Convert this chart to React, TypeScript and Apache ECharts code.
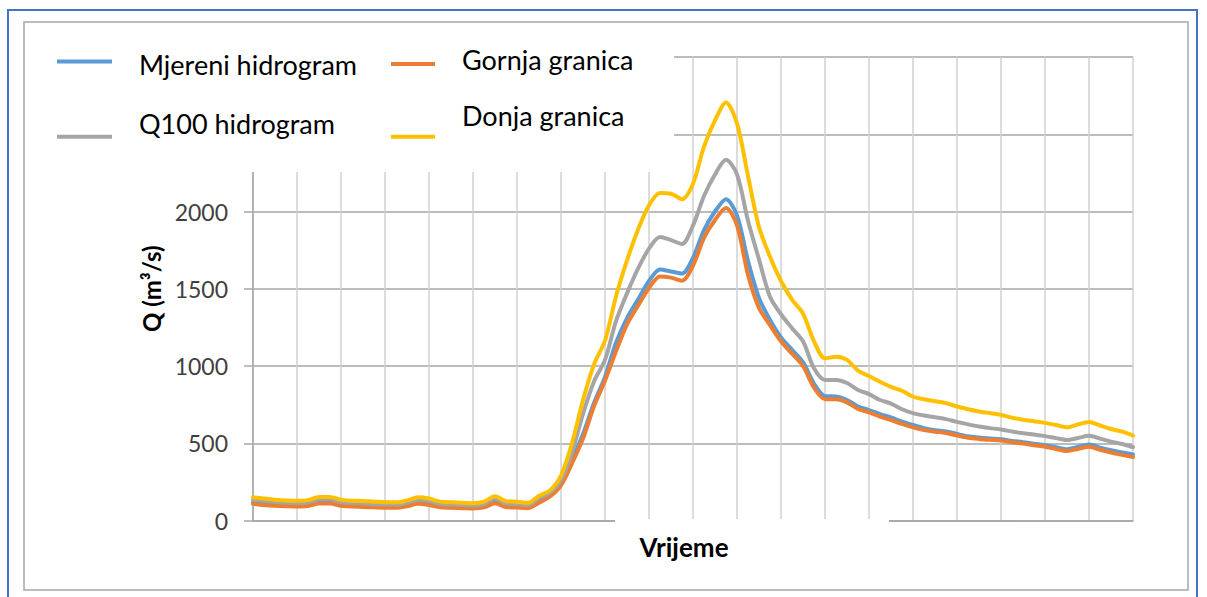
import React, { useEffect, useRef } from "react";
import * as echarts from "echarts";

const vrijeme = Array.from({ length: 81 }, (_, i) => String(i + 1));

const mjereni = [
  118, 110, 104, 100, 98, 102, 120, 120, 105, 98, 97, 93, 90, 90, 100, 118, 110, 93, 90, 87,
  85, 93, 122, 95, 92, 87, 125, 165, 240, 390, 560, 760, 930, 1150, 1310, 1430, 1550, 1625, 1612, 1598,
  1700, 1880, 2000, 2080, 1975, 1680, 1440, 1298, 1185, 1105, 1025, 885, 805, 802, 780, 738, 715, 689, 667, 640,
  618, 598, 585, 576, 560, 545, 537, 531, 526, 515, 507, 497, 488, 474, 461, 476, 492, 472, 455, 440,
  428,
];

const gornja = [
  108, 100, 95, 92, 90, 93, 110, 110, 96, 90, 88, 85, 82, 82, 92, 108, 100, 85, 82, 80,
  78, 85, 112, 87, 84, 80, 115, 155, 228, 370, 530, 740, 905, 1095, 1270, 1390, 1505, 1580, 1572, 1552,
  1650, 1830, 1945, 2022, 1910, 1590, 1375, 1265, 1160, 1080, 1000, 860, 785, 785, 765, 722, 700, 672, 650, 625,
  603, 585, 575, 566, 550, 536, 528, 522, 517, 507, 498, 487, 477, 463, 450, 463, 478, 458, 440, 425,
  410,
];

const q100 = [
  135, 127, 120, 115, 113, 117, 137, 137, 120, 113, 112, 107, 103, 103, 115, 135, 127, 107, 103, 100,
  97, 107, 142, 110, 107, 100, 145, 180, 262, 440, 690, 900, 1040, 1290, 1470, 1630, 1760, 1835, 1815, 1790,
  1910, 2100, 2240, 2335, 2240, 1940, 1690, 1448, 1335, 1245, 1160, 985, 910, 910, 890, 845, 818, 780, 757, 720,
  695, 680, 668, 656, 638, 622, 608, 598, 589, 576, 565, 556, 546, 533, 521, 534, 548, 530, 510, 495,
  474,
];

const donja = [
  150, 142, 135, 130, 128, 132, 152, 152, 135, 128, 127, 122, 118, 118, 130, 150, 142, 122, 118, 115,
  112, 122, 157, 125, 122, 115, 160, 195, 290, 500, 780, 1010, 1165, 1450, 1683, 1882, 2040, 2120, 2115, 2080,
  2180, 2420, 2590, 2705, 2570, 2230, 1900, 1707, 1550, 1430, 1340, 1160, 1050, 1060, 1040, 970, 935, 898, 865, 840,
  801, 785, 772, 760, 738, 720, 705, 695, 683, 665, 652, 642, 632, 618, 603, 622, 638, 615, 592, 575,
  550,
];

const yTicks = { min: 0, max: 3000, interval: 500, lastShown: 2000 };

const FONT = "Lato";

export default function App() {
  const ref = useRef<HTMLDivElement>(null);

  useEffect(() => {
    if (!ref.current) return;
    const chart = echarts.init(ref.current, undefined, { renderer: "svg" });

    // legend item whose text sits above/below its line, as in the reference
    const legendItem = (
      name: string,
      left: number,
      top: number,
      itemWidth: number,
      align: "top" | "middle",
      blockHeight: number,
      padTop: number
    ) => ({
      data: [name],
      left,
      top,
      itemWidth,
      itemHeight: 4,
      icon: "rect",
      orient: "horizontal",
      padding: 0,
      itemGap: 0,
      z: 10,
      selectedMode: false,
      formatter: (n: string) => `{t|${n}}{s| }`,
      textStyle: {
        fontFamily: FONT,
        fontSize: 27,
        color: "#000",
        rich: {
          t: {
            fontFamily: FONT,
            fontSize: 27,
            color: "#000",
            lineHeight: 32,
            verticalAlign: align,
            padding: [padTop, 0, 0, 22],
          },
          s: { fontSize: 2, width: 1, lineHeight: blockHeight },
        },
      },
    });

    const lineSeries = (name: string, data: number[], color: string) => ({
      name,
      type: "line",
      data,
      smooth: 0.3,
      symbol: "none",
      lineStyle: { color, width: 4, cap: "round", join: "round" },
      itemStyle: { color },
    });

    chart.setOption({
      animation: false,
      backgroundColor: "#fff",
      grid: { left: 253, right: 74, top: 57, bottom: 76.5, containLabel: false },
      legend: [
        legendItem("Mjereni hidrogram", 57, 45, 55, "middle", 32, 6),
        legendItem("Gornja granica", 391, 45.5, 44, "top", 37, 0),
        legendItem("Q100 hidrogram", 57, 110.4, 55, "top", 52.6, 0),
        legendItem("Donja granica", 391, 102.4, 44, "top", 68.6, 0),
      ],
      xAxis: {
        type: "category",
        data: vrijeme,
        boundaryGap: false,
        name: "Vrijeme",
        nameLocation: "middle",
        nameGap: 13,
        nameTextStyle: {
          fontFamily: FONT,
          fontWeight: "bold",
          fontSize: 26,
          color: "#000",
          padding: [0, 18, 0, 0],
        },
        axisLine: { show: true, lineStyle: { color: "#a6a6a6", width: 1.5 } },
        axisTick: { show: false },
        axisLabel: { show: false },
        splitLine: { show: true, interval: 3, lineStyle: { color: "#d0d0d0", width: 1.5 } },
      },
      yAxis: {
        type: "value",
        min: yTicks.min,
        max: yTicks.max,
        interval: yTicks.interval,
        name: "Q (m³/s)",
        nameLocation: "middle",
        nameGap: 90,
        nameRotate: 90,
        nameTextStyle: { fontFamily: FONT, fontWeight: "bold", fontSize: 24, color: "#000" },
        axisLine: { show: true, lineStyle: { color: "#a6a6a6", width: 1.5 } },
        axisTick: { show: true, length: 9, lineStyle: { color: "#a6a6a6", width: 1.5 } },
        axisLabel: {
          fontFamily: FONT,
          fontSize: 23,
          color: "#404040",
          margin: 25,
          // labels above 2000 sit under the legend box in the reference
          formatter: (v: number) => (v > yTicks.lastShown ? "" : String(v)),
        },
        splitLine: { show: true, lineStyle: { color: "#a6a6a6", width: 1.5 } },
      },
      series: [
        lineSeries("Mjereni hidrogram", mjereni, "#5B9BD5"),
        lineSeries("Gornja granica", gornja, "#ED7D31"),
        lineSeries("Q100 hidrogram", q100, "#A5A5A5"),
        lineSeries("Donja granica", donja, "#FFC000"),
      ],
      graphic: [
        { type: "rect", z: 1, shape: { x: 8, y: 10, width: 1189, height: 600 }, style: { fill: "none", stroke: "#4472C4", lineWidth: 2 } },
        { type: "rect", z: 1, shape: { x: 24, y: 22, width: 1164, height: 568 }, style: { fill: "none", stroke: "#a6a6a6", lineWidth: 1.5 } },
        { type: "rect", z: 5, shape: { x: 25, y: 23, width: 649, height: 149 }, style: { fill: "#fff" } },
        { type: "rect", z: 5, shape: { x: 615, y: 519, width: 274, height: 14 }, style: { fill: "#fff" } },
      ],
    });

    return () => chart.dispose();
  }, []);

  return (
    <div
      ref={ref}
      style={{ position: "fixed", left: 0, top: 0, width: 1207, height: 597, background: "#fff" }}
    />
  );
}
